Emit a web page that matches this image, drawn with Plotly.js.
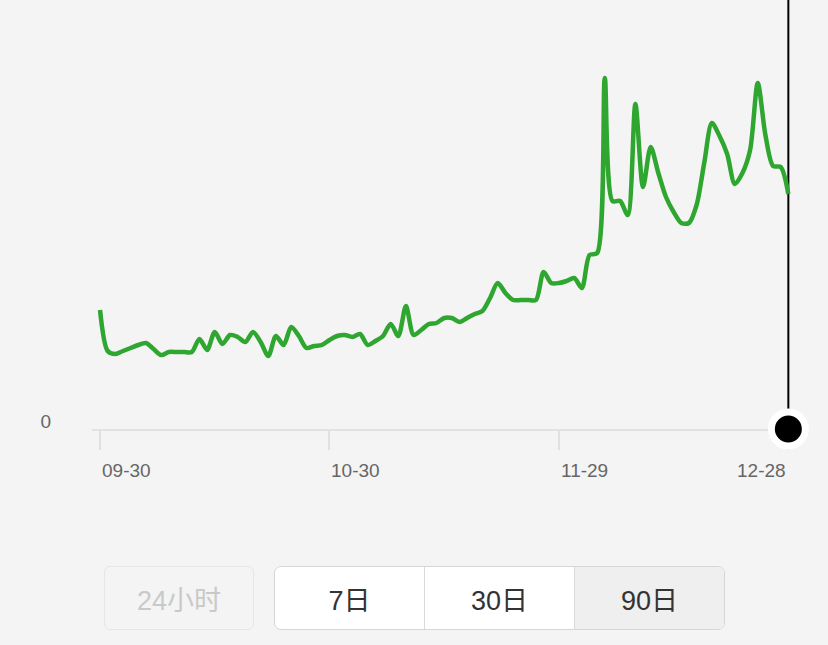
<!DOCTYPE html>
<html>
<head>
<meta charset="utf-8">
<script src="https://cdn.plot.ly/plotly-3.0.1.min.js"></script>
<style>
  html, body { margin:0; padding:0; background:#f4f4f4; width:828px; height:645px; overflow:hidden; font-family:"Liberation Sans","Noto Sans CJK SC",sans-serif; }
  #chart { position:absolute; left:0; top:0; width:828px; height:645px; }
  .btn { position:absolute; top:566px; height:64px; box-sizing:border-box; display:flex; align-items:center; justify-content:center; font-size:27px; color:#333; font-family:"Liberation Sans","Noto Sans CJK SC",sans-serif; }
  #b24 { left:104px; width:150px; border:1.5px solid #e6e6e6; border-radius:6px; color:#c9c9c9; background:#f4f4f4; }
  #grp { position:absolute; left:274px; top:566px; width:451px; height:64px; box-sizing:border-box; border:1.5px solid #d6d6d6; border-radius:7px; overflow:hidden; display:flex; background:#fff; }
  #grp div { flex:1; display:flex; align-items:center; justify-content:center; font-size:27px; color:#333; border-right:1.5px solid #d9d9d9; }
  #grp div:last-child { border-right:none; background:#efefef; }
</style>
</head>
<body>
<div id="chart"></div>
<div class="btn" id="b24">24小时</div>
<div id="grp"><div>7日</div><div>30日</div><div>90日</div></div>
<script>
// values by day index (0 = 09-30 ... 90 = 12-28)
const dayIndex = Array.from({length: 91}, (_, i) => i);
const values = [
  119, 78, 75, 78, 81, 84, 86, 80, 74, 77,
  77, 77, 77, 90, 79, 97, 85, 94, 92, 87,
  97, 87, 73, 93, 84, 102, 93, 81, 83, 84,
  89, 93, 94, 92, 95, 84, 88, 93, 105, 93,
  123, 94, 99, 105, 106, 111, 111, 107, 111, 115,
  118, 131, 146, 136, 129, 129, 129, 129, 157, 146,
  146, 148, 151, 141, 174, 176, 351, 228, 228, 214,
  325, 242, 282, 256, 232, 217, 206, 206, 224, 266,
  306, 293, 275, 245, 256, 279, 346, 294, 263, 262,
  235
];
const tickIdx = [0, 30, 60, 90];
const tickLabels = ["09-30", "10-30", "11-29", "12-28"];
const tickAnchors = ["left", "left", "left", "right"];
const hoverIdx = 90;

const lineTrace = {
  x: dayIndex, y: values, type: "scatter", mode: "lines",
  line: {color: "#2ea62f", width: 4.5, shape: "spline", smoothing: 0.8},
  hoverinfo: "skip"
};
const dotTrace = {
  x: [hoverIdx], y: [0], type: "scatter", mode: "markers",
  marker: {color: "#000", size: 34, line: {color: "#ffffff", width: 7}},
  cliponaxis: false, hoverinfo: "skip"
};

const annotations = tickIdx.map((t, k) => ({
  x: t, xref: "x", y: 0, yref: "y", yshift: -41,
  text: tickLabels[k], showarrow: false,
  xanchor: tickAnchors[k], yanchor: "middle",
  font: {family: "Liberation Sans, Arial, sans-serif", size: 19, color: "#666"}
}));

const layout = {
  width: 828, height: 645,
  margin: {l: 92, r: 32.4, t: 0, b: 216, pad: 0},
  paper_bgcolor: "#f4f4f4", plot_bgcolor: "#f4f4f4",
  showlegend: false,
  xaxis: {
    range: [-1.05, 91], fixedrange: true,
    showgrid: false, zeroline: false,
    showline: true, linecolor: "#e2e2e2", linewidth: 2,
    tickmode: "array", tickvals: tickIdx, ticktext: tickLabels,
    showticklabels: false, layer: "below traces",
    ticks: "outside", ticklen: 19, tickcolor: "#e0e0e0", tickwidth: 2
  },
  yaxis: {
    range: [0, 429], fixedrange: true,
    showgrid: false, zeroline: false, showline: false,
    tickmode: "array", tickvals: [0], ticktext: ["0"],
    ticks: "", ticklabelshift: -8, ticklabelstandoff: 40,
    tickfont: {family: "Liberation Sans, Arial, sans-serif", size: 19, color: "#666"}
  },
  shapes: [{
    type: "line", xref: "x", yref: "paper", layer: "below",
    x0: hoverIdx, x1: hoverIdx, y0: 0, y1: 1,
    line: {color: "#000", width: 2}
  }],
  annotations: annotations
};

Plotly.newPlot("chart", [lineTrace, dotTrace], layout, {staticPlot: true, displayModeBar: false});
</script>
</body>
</html>
